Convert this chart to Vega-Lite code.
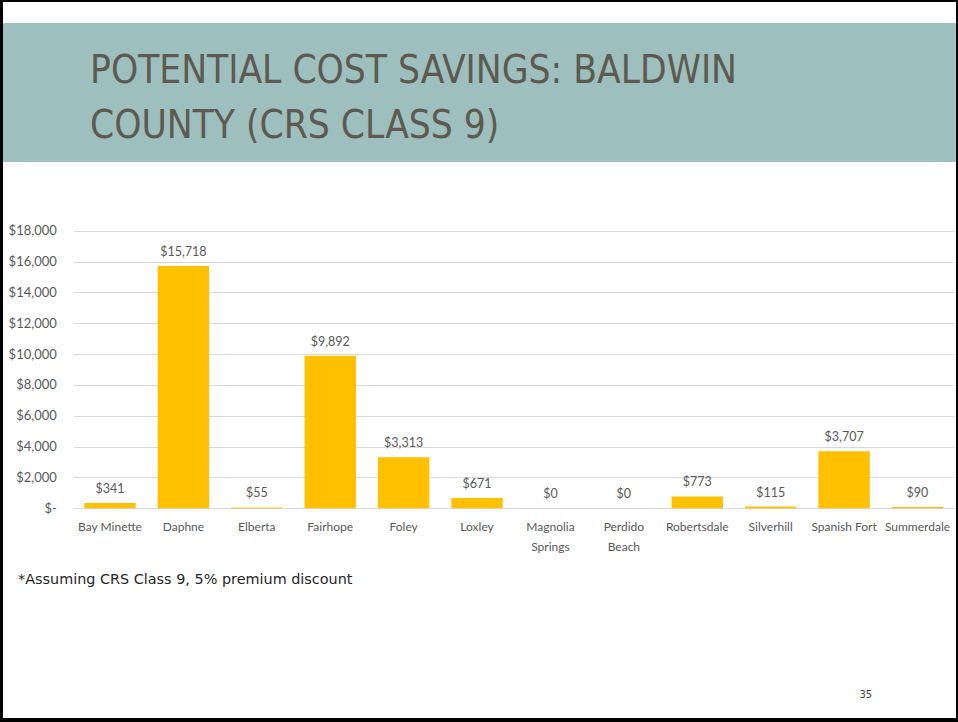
{
  "$schema": "https://vega.github.io/schema/vega-lite/v6.json",
  "background": "#000000",
  "padding": {"left": 3, "top": 2, "right": 2, "bottom": 4},
  "spacing": 0,
  "config": {
    "view": {"stroke": null},
    "concat": {"spacing": 0}
  },
  "title": {
    "text": "35",
    "orient": "bottom",
    "anchor": "end",
    "offset": -20,
    "dx": -84,
    "baseline": "alphabetic",
    "font": "DejaVu Sans Condensed, Liberation Sans Narrow, Roboto Condensed, sans-serif",
    "fontSize": 11,
    "fontWeight": "normal",
    "color": "#404040"
  },
  "vconcat": [
    {
      "width": 953,
      "height": 21,
      "view": {"fill": "#FFFFFF", "stroke": null},
      "data": {"values": [{}]},
      "mark": {"type": "text"},
      "encoding": {"text": {"value": ""}}
    },
    {
      "width": 953,
      "height": 139,
      "view": {"fill": "#9DBFBE", "stroke": null},
      "title": {
        "text": ["POTENTIAL COST SAVINGS: BALDWIN", "COUNTY (CRS CLASS 9)"],
        "orient": "top",
        "anchor": "start",
        "frame": "group",
        "offset": -153,
        "dx": 87,
        "baseline": "alphabetic",
        "lineHeight": 55,
        "font": "DejaVu Sans Condensed, Liberation Sans Narrow, Roboto Condensed, sans-serif",
        "fontSize": 38.5,
        "fontWeight": "normal",
        "color": "#5E5A50"
      },
      "data": {"values": [{}]},
      "mark": {"type": "text"},
      "encoding": {"text": {"value": ""}}
    },
    {
      "width": 953,
      "height": 556,
      "view": {"fill": "#FFFFFF", "stroke": null},
      "title": {
        "text": "*Assuming CRS Class 9, 5% premium discount",
        "orient": "bottom",
        "anchor": "start",
        "frame": "group",
        "offset": -134,
        "dx": 15,
        "baseline": "alphabetic",
        "font": "DejaVu Sans",
        "fontSize": 14.4,
        "fontWeight": "normal",
        "color": "#262626"
      },
      "data": {
        "values": [
          {"city": "Bay Minette", "savings": 341},
          {"city": "Daphne", "savings": 15718},
          {"city": "Elberta", "savings": 55},
          {"city": "Fairhope", "savings": 9892},
          {"city": "Foley", "savings": 3313},
          {"city": "Loxley", "savings": 671},
          {"city": "Magnolia Springs", "savings": 0},
          {"city": "Perdido Beach", "savings": 0},
          {"city": "Robertsdale", "savings": 773},
          {"city": "Silverhill", "savings": 115},
          {"city": "Spanish Fort", "savings": 3707},
          {"city": "Summerdale", "savings": 90}
        ]
      },
      "encoding": {
        "x": {
          "field": "city",
          "type": "nominal",
          "sort": null,
          "scale": {"range": [70.3, 951.2], "paddingInner": 0.3, "paddingOuter": 0.15},
          "axis": {
            "orient": "bottom",
            "offset": -209.7,
            "title": null,
            "domain": false,
            "ticks": false,
            "tickSize": 0,
            "grid": false,
            "labelAngle": 0,
            "labelFont": "Lato",
            "labelFontSize": 12,
            "labelColor": "#595959",
            "labelPadding": 13,
            "labelLineHeight": 20,
            "labelOverlap": false,
            "labelBound": false,
            "labelFlush": false,
            "labelExpr": "indexof(['Magnolia Springs','Perdido Beach'], datum.label) >= 0 ? split(datum.label, ' ') : datum.label"
          }
        },
        "y": {
          "field": "savings",
          "type": "quantitative",
          "scale": {"domain": [-13597, 22455], "nice": false, "zero": false},
          "axis": {
            "orient": "left",
            "offset": -70.3,
            "title": null,
            "values": [0, 2000, 4000, 6000, 8000, 10000, 12000, 14000, 16000, 18000],
            "domain": false,
            "ticks": false,
            "tickSize": 0,
            "grid": true,
            "gridColor": "#D9D9D9",
            "gridWidth": 1,
            "labelFont": "Lato",
            "labelFontSize": 13,
            "labelColor": "#595959",
            "labelPadding": 17,
            "labelOverlap": false,
            "labelFlush": false,
            "labelBound": false,
            "labelExpr": "datum.value == 0 ? '$-' : '$' + format(datum.value, ',')"
          }
        }
      },
      "layer": [
        {
          "mark": {"type": "bar", "color": "#FFC000"}
        },
        {
          "mark": {
            "type": "text",
            "baseline": "alphabetic",
            "dy": -10,
            "font": "Lato",
            "fontSize": 12.5,
            "color": "#595959"
          },
          "encoding": {
            "text": {"field": "savings", "type": "quantitative", "format": "$,"}
          }
        }
      ]
    }
  ]
}
